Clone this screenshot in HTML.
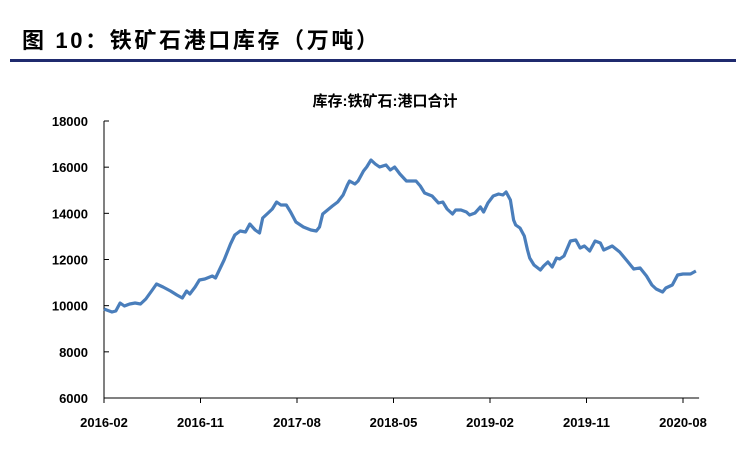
<!DOCTYPE html>
<html><head><meta charset="utf-8"><style>
body{margin:0;background:#fff;width:744px;height:456px;overflow:hidden;font-family:"Liberation Sans","Noto Sans CJK SC",sans-serif}
</style></head><body>
<svg width="744" height="456">
<text x="22" y="48" font-size="22" font-weight="bold" fill="#000" textLength="356" lengthAdjust="spacing" font-family="Liberation Sans, Noto Sans CJK SC, sans-serif">图 10：铁矿石港口库存（万吨）</text>
<rect x="10" y="59" width="726" height="3" fill="#1f2a6e"/>
<text x="385" y="106" font-size="15" font-weight="bold" text-anchor="middle" font-family="Liberation Sans, Noto Sans CJK SC, sans-serif">库存:铁矿石:港口合计</text>
<g id="axes"></g>
<path id="line" fill="none" stroke="#4a7ebb" stroke-width="3.2" stroke-linejoin="round"/>
</svg>
<script>
const months=[0,0.75,1.1,1.5,1.9,2.4,2.9,3.4,3.9,4.5,4.9,5.5,6.2,6.8,7.3,7.7,8.0,8.5,8.9,9.4,10.1,10.4,10.8,11.2,11.8,12.2,12.7,13.2,13.6,14.1,14.5,14.8,15.3,15.7,16.1,16.5,17.0,17.4,17.9,18.6,19.3,19.8,20.1,20.4,21.3,21.8,22.3,22.7,22.9,23.4,23.7,24.2,24.5,24.9,25.3,25.7,26.3,26.7,27.1,27.6,28.2,28.7,29.1,29.5,29.9,30.6,31.2,31.6,32.0,32.5,32.8,33.3,33.8,34.1,34.6,35.1,35.4,35.8,36.3,36.8,37.2,37.5,37.9,38.2,38.4,38.8,39.2,39.5,39.7,40.1,40.7,41.0,41.4,41.8,42.2,42.5,42.9,43.5,44.0,44.4,44.8,45.3,45.8,46.3,46.6,47.4,48.1,48.8,49.4,50.0,50.6,51.1,51.5,52.1,52.4,53.0,53.5,54.0,54.7,55.2];
const inventory=[9856,9726,9769,10116,9986,10072,10116,10072,10289,10679,10939,10809,10636,10462,10332,10636,10506,10809,11112,11155,11285,11199,11589,11979,12672,13062,13235,13192,13538,13278,13148,13798,14015,14188,14491,14361,14361,14058,13625,13408,13278,13235,13408,13971,14318,14491,14794,15228,15401,15271,15401,15834,16007,16311,16137,16007,16094,15877,16007,15704,15401,15401,15401,15184,14881,14751,14448,14491,14188,13971,14145,14145,14058,13928,14015,14274,14058,14448,14751,14838,14794,14924,14578,13711,13495,13365,13018,12412,12065,11762,11545,11719,11892,11675,12065,12022,12152,12802,12845,12498,12585,12368,12802,12715,12412,12585,12325,11935,11589,11632,11285,10896,10722,10592,10766,10896,11329,11372,11372,11502];
const yTicks=[6000,8000,10000,12000,14000,16000,18000];
const xTickLabels=["2016-02","2016-11","2017-08","2018-05","2019-02","2019-11","2020-08"];
const xTickMonths=[0,9,18,27,36,45,54];
const X=m=>104+m*(683-104)/54;
const Y=v=>398-(v-6000)*(398-121)/12000;
const NS="http://www.w3.org/2000/svg";
const ax=document.getElementById('axes');
function mk(t,a){const e=document.createElementNS(NS,t);for(const k in a)e.setAttribute(k,a[k]);ax.appendChild(e);return e;}
let e=mk('line',{x1:104,y1:121,x2:104,y2:398,stroke:'#000','stroke-width':1});


e=mk('line',{x1:104,y1:398,x2:X(55.5),y2:398,stroke:'#000','stroke-width':1});


yTicks.forEach(v=>{
 const t=mk('line',{x1:104,x2:109,y1:Y(v),y2:Y(v),stroke:'#000'});
 
 
 const l=mk('text',{x:88,y:Y(v)+5,'text-anchor':'end','font-size':13,'font-weight':'bold'});
 l.textContent=v;
 
 
});
xTickMonths.forEach((m,i)=>{
 const t=mk('line',{x1:X(m),x2:X(m),y1:398,y2:403,stroke:'#000'});
 
 
 const l=mk('text',{x:X(m),y:427,'text-anchor':'middle','font-size':13,'font-weight':'bold'});
 l.textContent=xTickLabels[i];
 
 
});
document.getElementById('line').setAttribute('d',months.map((m,i)=>(i?'L':'M')+X(m).toFixed(1)+','+Y(inventory[i]).toFixed(1)).join(''));
</script>
</body></html>
